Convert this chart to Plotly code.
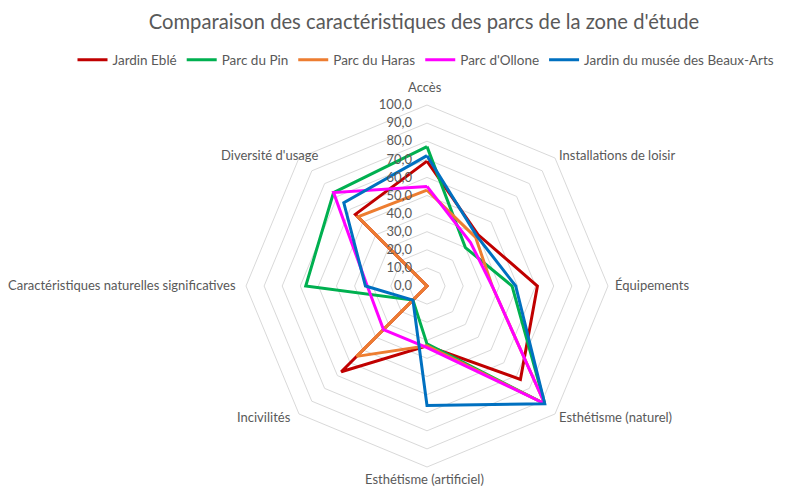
import plotly.graph_objects as go

categories = ["Accès", "Installations de loisir", "Équipements", "Esthétisme (naturel)",
              "Esthétisme (artificiel)", "Incivilités",
              "Caractéristiques naturelles significatives", "Diversité d'usage"]

jardin_eble = [69, 40, 61, 73, 33, 67, 0, 56]
parc_du_pin = [77, 30, 47, 92, 32, 11, 67, 73]
parc_du_haras = [53, 38, 36, 92, 33, 55, 0, 54]
parc_ollone = [55, 34, 36, 92, 34, 34, 33, 73]
jardin_beaux_arts = [72, 39, 49, 92, 66, 11, 34, 65]

series_names = ["Jardin Eblé", "Parc du Pin", "Parc du Haras", "Parc d'Ollone",
                "Jardin du musée des Beaux-Arts"]
series_values = [jardin_eble, parc_du_pin, parc_du_haras, parc_ollone, jardin_beaux_arts]
colors = ["#C00000", "#00B050", "#ED7D31", "#FF00FF", "#0070C0"]

radial_ticks = list(range(0, 101, 10))

W, H = 793, 488
OFF = 8  # page body margin offset
cx, cy, R = 427 - OFF, 286 - OFF, 181


def px(x):
    return (x - OFF) / W


def py(y):
    return 1 - (y - OFF) / H


# category label placement (pixels in target image): (x, y, xanchor)
label_pos = [(425, 87, "center"), (557, 155, "left"), (613, 285, "left"),
             (557, 417, "left"), (425, 479, "center"), (293, 417, "right"),
             (238, 285, "right"), (320, 155, "right")]

fig = go.Figure()
for name, vals, col in zip(series_names, series_values, colors):
    fig.add_trace(go.Scatterpolar(
        r=vals + vals[:1], theta=categories + categories[:1], name=name,
        mode="lines", line=dict(color=col, width=3),
    ))

font_family = "Lato, 'Open Sans', sans-serif"
annotations = []
for cat, (lx, ly, xa) in zip(categories, label_pos):
    annotations.append(dict(text=cat, x=px(lx), y=py(ly), xref="paper", yref="paper",
                            xanchor=xa, yanchor="middle", showarrow=False,
                            font=dict(size=13, color="#595959", family=font_family)))

fig.update_layout(
    width=W, height=H,
    margin=dict(l=0, r=0, t=0, b=0),
    paper_bgcolor="white",
    separators=", ",
    font=dict(family=font_family, color="#595959", size=12),
    title=dict(text="Comparaison des caractéristiques des parcs de la zone d'étude",
               x=px(424), xanchor="center", y=py(22), yanchor="middle",
               font=dict(size=20.2, color="#595959", family=font_family)),
    legend=dict(orientation="h", x=px(426), xanchor="center", y=py(60), yanchor="middle",
                font=dict(size=13.5, color="#595959"), itemwidth=30),
    annotations=annotations,
    polar=dict(
        domain=dict(x=[(cx - R) / W, (cx + R) / W], y=[(H - cy - R) / H, (H - cy + R) / H]),
        bgcolor="white",
        gridshape="linear",
        radialaxis=dict(range=[0, 100], tickvals=radial_ticks, tickformat=".1f",
                        angle=90, tickangle=90, side="counterclockwise",
                        showline=False, ticks="outside", ticklen=10,
                        tickcolor="rgba(0,0,0,0)",
                        gridcolor="#D9D9D9", gridwidth=1,
                        tickfont=dict(size=13, color="#595959")),
        angularaxis=dict(rotation=90, direction="clockwise", showgrid=False,
                         showline=True, linecolor="#D9D9D9", linewidth=1,
                         showticklabels=False, ticks=""),
    ),
)

fig.write_html("out.html")
